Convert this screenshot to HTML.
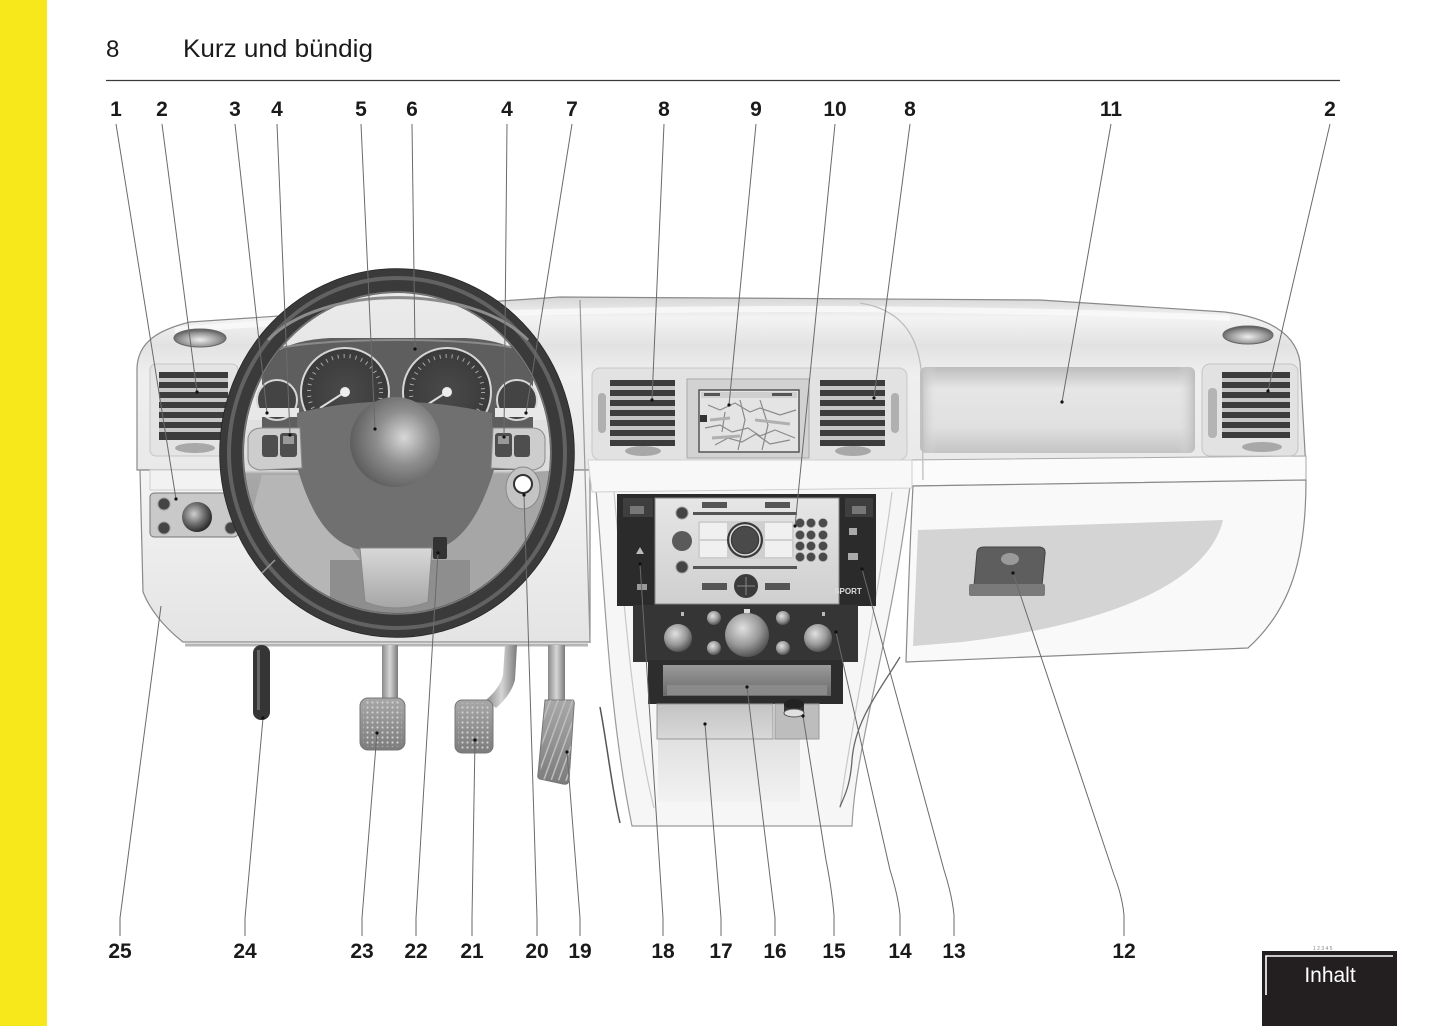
<!DOCTYPE html>
<html><head><meta charset="utf-8">
<style>
html,body{margin:0;padding:0;background:#fff;}
body{width:1445px;height:1026px;position:relative;overflow:hidden;font-family:"Liberation Sans",sans-serif;}
.yb{position:absolute;left:0;top:0;width:47px;height:1026px;background:#f6e81a;}
svg{position:absolute;left:0;top:0;}
</style></head><body>
<div class="yb"></div>
<svg width="1445" height="1026" viewBox="0 0 1445 1026" xmlns="http://www.w3.org/2000/svg">
<defs>
  <linearGradient id="gTop" x1="0" y1="0" x2="0" y2="1">
    <stop offset="0" stop-color="#d6d6d6"/>
    <stop offset="0.12" stop-color="#f3f3f3"/>
    <stop offset="0.28" stop-color="#e2e2e2"/>
    <stop offset="0.45" stop-color="#efefef"/>
    <stop offset="1" stop-color="#e9e9e9"/>
  </linearGradient>
  <linearGradient id="gLow" x1="0" y1="0" x2="0" y2="1">
    <stop offset="0" stop-color="#f4f4f4"/>
    <stop offset="1" stop-color="#e4e4e4"/>
  </linearGradient>
  <linearGradient id="gBag" x1="0" y1="0" x2="0" y2="1">
    <stop offset="0" stop-color="#bdbdbd"/>
    <stop offset="0.25" stop-color="#e6e6e6"/>
    <stop offset="0.7" stop-color="#e0e0e0"/>
    <stop offset="1" stop-color="#c4c4c4"/>
  </linearGradient>
  <linearGradient id="gBagH" x1="0" y1="0" x2="1" y2="0">
    <stop offset="0" stop-color="#bbb" stop-opacity="0.9"/>
    <stop offset="0.06" stop-color="#ddd" stop-opacity="0"/>
    <stop offset="0.94" stop-color="#ddd" stop-opacity="0"/>
    <stop offset="1" stop-color="#bbb" stop-opacity="0.9"/>
  </linearGradient>
  <radialGradient id="gAir" cx="0.6" cy="0.45" r="0.6">
    <stop offset="0" stop-color="#d8d8d8"/>
    <stop offset="0.5" stop-color="#8e8e8e"/>
    <stop offset="1" stop-color="#5e5e5e"/>
  </radialGradient>
  <radialGradient id="gKnob" cx="0.4" cy="0.4" r="0.6">
    <stop offset="0" stop-color="#cfcfcf"/>
    <stop offset="0.6" stop-color="#6a6a6a"/>
    <stop offset="1" stop-color="#2e2e2e"/>
  </radialGradient>
  <radialGradient id="gKnobL" cx="0.4" cy="0.35" r="0.65">
    <stop offset="0" stop-color="#e0e0e0"/>
    <stop offset="0.6" stop-color="#9a9a9a"/>
    <stop offset="1" stop-color="#555"/>
  </radialGradient>
  <radialGradient id="gCup" cx="0.5" cy="0.6" r="0.6">
    <stop offset="0" stop-color="#eee"/>
    <stop offset="0.6" stop-color="#999"/>
    <stop offset="1" stop-color="#555"/>
  </radialGradient>
  <radialGradient id="gGauge" cx="0.5" cy="0.5" r="0.5">
    <stop offset="0" stop-color="#4a4a4a"/>
    <stop offset="1" stop-color="#3a3a3a"/>
  </radialGradient>
  <linearGradient id="gInner" x1="0" y1="0" x2="0" y2="1">
    <stop offset="0" stop-color="#ececec"/>
    <stop offset="0.55" stop-color="#dcdcdc"/>
    <stop offset="0.56" stop-color="#a8a8a8"/>
    <stop offset="1" stop-color="#8e8e8e"/>
  </linearGradient>
  <linearGradient id="gRadio" x1="0" y1="0" x2="0" y2="1">
    <stop offset="0" stop-color="#e6e6e6"/>
    <stop offset="1" stop-color="#cfcfcf"/>
  </linearGradient>
  <linearGradient id="gStem" x1="0" y1="0" x2="1" y2="0">
    <stop offset="0" stop-color="#8a8a8a"/>
    <stop offset="0.5" stop-color="#d6d6d6"/>
    <stop offset="1" stop-color="#7a7a7a"/>
  </linearGradient>
  <linearGradient id="gPad" x1="0" y1="0" x2="0" y2="1">
    <stop offset="0" stop-color="#a8a8a8"/>
    <stop offset="1" stop-color="#7c7c7c"/>
  </linearGradient>
  <linearGradient id="gSpoke" x1="0" y1="0" x2="0" y2="1">
    <stop offset="0" stop-color="#d8d8d8"/>
    <stop offset="1" stop-color="#a6a6a6"/>
  </linearGradient>
  <linearGradient id="gTray" x1="0" y1="0" x2="0" y2="1">
    <stop offset="0" stop-color="#9a9a9a"/>
    <stop offset="1" stop-color="#6a6a6a"/>
  </linearGradient>
  <linearGradient id="gBox" x1="0" y1="0" x2="0" y2="1">
    <stop offset="0" stop-color="#c4c4c4"/>
    <stop offset="1" stop-color="#d8d8d8"/>
  </linearGradient>
  <linearGradient id="gCons" x1="0" y1="0" x2="0" y2="1">
    <stop offset="0" stop-color="#e0e0e0"/>
    <stop offset="1" stop-color="#f2f2f2"/>
  </linearGradient>
  <pattern id="dots" width="5" height="5" patternUnits="userSpaceOnUse">
    <circle cx="2.5" cy="2.5" r="1.1" fill="#cfcfcf"/>
  </pattern>
  <pattern id="stripes" width="7" height="7" patternUnits="userSpaceOnUse" patternTransform="rotate(20)">
    <rect x="0" y="0" width="1.5" height="7" fill="#bdbdbd"/>
  </pattern>
  <clipPath id="wheelIn"><ellipse cx="397" cy="453" rx="166" ry="173"/></clipPath>
</defs>

<!-- header -->
<text x="106" y="57" font-family="Liberation Sans, sans-serif" font-size="24" fill="#1a1a1a">8</text>
<text x="183" y="57" font-family="Liberation Sans, sans-serif" font-size="25" fill="#1a1a1a" textLength="190" lengthAdjust="spacingAndGlyphs">Kurz und bündig</text>
<line x1="106" y1="80.5" x2="1340" y2="80.5" stroke="#3a3a3a" stroke-width="1.3"/>

<!-- center console body -->
<path d="M594,470 C604,560 606,700 632,826 L852,826 C856,740 892,640 912,470 Z" fill="#f6f6f6" stroke="#9a9a9a" stroke-width="1.2"/>
<path d="M614,492 C624,600 632,720 654,808" fill="none" stroke="#c8c8c8" stroke-width="1.2"/>
<path d="M892,492 C878,600 852,720 840,808" fill="none" stroke="#c8c8c8" stroke-width="1.2"/>
<path d="M600,707 C608,750 612,790 620,823" fill="none" stroke="#555" stroke-width="1.5"/>
<path d="M900,657 C880,690 855,720 852,760 C850,790 842,800 840,807" fill="none" stroke="#666" stroke-width="1.3"/>
<rect x="658" y="738" width="142" height="64" fill="url(#gCons)"/>

<!-- upper dash body -->
<path d="M137,368 C138,342 158,330 190,322 L560,297 L1040,300 L1225,312 C1270,318 1296,334 1300,362 L1306,470 L137,470 Z" fill="url(#gTop)" stroke="#8a8a8a" stroke-width="1.2"/>
<path d="M175,330 C400,312 800,300 1230,318" fill="none" stroke="#fafafa" stroke-width="6" opacity="0.8"/>

<!-- lower left panel -->
<path d="M140,470 L590,470 L590,642 L183,642 C165,628 150,610 143,592 Z" fill="url(#gLow)" stroke="#8a8a8a" stroke-width="1.2"/>
<line x1="185" y1="645" x2="588" y2="645" stroke="#b5b5b5" stroke-width="3"/>
<line x1="580" y1="300" x2="590" y2="643" stroke="#9a9a9a" stroke-width="1.2"/>

<!-- glovebox -->
<path d="M905,460 L1306,456 L1306,480 L905,486 Z" fill="#fbfbfb" stroke="#aaa"/>
<path d="M913,486 L1306,480 C1306,560 1290,610 1248,648 L906,662 C908,600 910,540 913,486 Z" fill="#f9f9f9" stroke="#8a8a8a" stroke-width="1.2"/>
<path d="M918,530 L1223,520 C1210,575 1130,622 962,642 L913,646 Z" fill="#d4d4d4"/>
<path d="M977,552 Q978,547 984,547 L1040,547 Q1046,548 1045,554 L1042,586 L974,586 Z" fill="#5e5e5e" stroke="#444"/>
<rect x="969" y="584" width="76" height="12" rx="2" fill="#7a7a7a"/>
<ellipse cx="1010" cy="559" rx="9" ry="6" fill="#9a9a9a"/>

<!-- right side: airbag panel, vent, cupholder -->
<rect x="920" y="367" width="275" height="86" rx="6" fill="url(#gBag)"/>
<rect x="920" y="367" width="275" height="86" rx="6" fill="url(#gBagH)"/>
<rect x="1202" y="364" width="96" height="92" rx="8" fill="#e2e2e2" stroke="#c4c4c4"/>
<rect x="1208" y="388" width="9" height="50" rx="4" fill="#b4b4b4"/>
<g>
  <rect x="1222" y="372" width="68" height="66" fill="#3c3c3c"/>
  <rect x="1222" y="378" width="68" height="4" fill="#c6c6c6"/>
  <rect x="1222" y="388" width="68" height="4" fill="#c6c6c6"/>
  <rect x="1222" y="398" width="68" height="4" fill="#c6c6c6"/>
  <rect x="1222" y="408" width="68" height="4" fill="#c6c6c6"/>
  <rect x="1222" y="418" width="68" height="4" fill="#c6c6c6"/>
  <rect x="1222" y="428" width="68" height="4" fill="#c6c6c6"/>
</g>
<ellipse cx="1262" cy="447" rx="20" ry="5" fill="#a8a8a8"/>
<ellipse cx="1248" cy="335" rx="25" ry="9" fill="url(#gCup)" stroke="#666"/>

<!-- center pod -->
<path d="M860,303 C905,310 920,340 922,380 L923,480" fill="none" stroke="#bdbdbd" stroke-width="1.3"/>
<rect x="592" y="368" width="315" height="92" rx="8" fill="#e2e2e2" stroke="#c8c8c8"/>
<rect x="598" y="393" width="8" height="40" rx="4" fill="#b0b0b0"/>
<rect x="891" y="393" width="8" height="40" rx="4" fill="#b0b0b0"/>
<g>
  <rect x="610" y="380" width="65" height="66" fill="#3c3c3c"/>
  <rect x="610" y="386" width="65" height="4" fill="#c6c6c6"/>
  <rect x="610" y="396" width="65" height="4" fill="#c6c6c6"/>
  <rect x="610" y="406" width="65" height="4" fill="#c6c6c6"/>
  <rect x="610" y="416" width="65" height="4" fill="#c6c6c6"/>
  <rect x="610" y="426" width="65" height="4" fill="#c6c6c6"/>
  <rect x="610" y="436" width="65" height="4" fill="#c6c6c6"/>
</g>
<g>
  <rect x="820" y="380" width="65" height="66" fill="#3c3c3c"/>
  <rect x="820" y="386" width="65" height="4" fill="#c6c6c6"/>
  <rect x="820" y="396" width="65" height="4" fill="#c6c6c6"/>
  <rect x="820" y="406" width="65" height="4" fill="#c6c6c6"/>
  <rect x="820" y="416" width="65" height="4" fill="#c6c6c6"/>
  <rect x="820" y="426" width="65" height="4" fill="#c6c6c6"/>
  <rect x="820" y="436" width="65" height="4" fill="#c6c6c6"/>
</g>
<ellipse cx="643" cy="451" rx="18" ry="5" fill="#a8a8a8"/>
<ellipse cx="853" cy="451" rx="18" ry="5" fill="#a8a8a8"/>
<rect x="687" y="379" width="122" height="79" fill="#d2d2d2" stroke="#aaa"/>
<rect x="699" y="390" width="100" height="62" fill="#e4e4e4" stroke="#555" stroke-width="1.5"/>
<rect x="701" y="392" width="96" height="6" fill="#cfcfcf"/>
<rect x="704" y="393" width="16" height="3" fill="#555"/>
<rect x="772" y="393" width="20" height="3" fill="#555"/>
<rect x="700" y="415" width="7" height="7" fill="#333"/>
<path d="M708,405 L720,410 L735,403 L750,412 L760,408 L780,415 L796,410 M705,428 L720,425 L732,432 L748,428 L760,436 L775,430 L795,438 M715,445 L728,438 L742,442 L756,434 L770,444 L790,440 M740,400 L745,420 L738,450 M760,400 L768,425 L762,450 M725,412 L722,432" fill="none" stroke="#8a8a8a" stroke-width="1.2"/>
<path d="M710,420 L730,418 M755,420 L790,424 M712,438 L740,436" fill="none" stroke="#b0b0b0" stroke-width="3"/>

<!-- ridge -->
<path d="M588,460 L912,460 L912,488 L592,492 Z" fill="#f8f8f8" stroke="#cfcfcf"/>

<!-- center stack -->
<rect x="617" y="494" width="259" height="112" fill="#2b2b2b"/>
<rect x="655" y="498" width="184" height="106" fill="url(#gRadio)" stroke="#888"/>
<rect x="702" y="502" width="25" height="6" fill="#555"/>
<rect x="765" y="502" width="25" height="6" fill="#555"/>
<rect x="693" y="512" width="104" height="3" fill="#555"/>
<rect x="693" y="566" width="104" height="3" fill="#555"/>
<circle cx="682" cy="513" r="6" fill="#444" stroke="#999"/>
<circle cx="682" cy="567" r="6" fill="#444" stroke="#999"/>
<circle cx="682" cy="541" r="10" fill="#5a5a5a"/>
<rect x="698" y="521" width="96" height="38" rx="2" fill="#cfcfcf"/>
<rect x="700" y="523" width="27" height="16" fill="#f0f0f0"/>
<rect x="700" y="541" width="27" height="16" fill="#f0f0f0"/>
<rect x="765" y="523" width="27" height="16" fill="#f0f0f0"/>
<rect x="765" y="541" width="27" height="16" fill="#f0f0f0"/>
<circle cx="745" cy="540" r="18" fill="#3a3a3a"/>
<circle cx="745" cy="540" r="15" fill="none" stroke="#ddd" stroke-width="1.5"/>
<circle cx="745" cy="540" r="13" fill="#4a4a4a"/>
<g fill="#4a4a4a" stroke="#999" stroke-width="0.6">
  <circle cx="800" cy="523" r="4.5"/><circle cx="811" cy="523" r="4.5"/><circle cx="823" cy="523" r="4.5"/>
  <circle cx="800" cy="535" r="4.5"/><circle cx="811" cy="535" r="4.5"/><circle cx="823" cy="535" r="4.5"/>
  <circle cx="800" cy="546" r="4.5"/><circle cx="811" cy="546" r="4.5"/><circle cx="823" cy="546" r="4.5"/>
  <circle cx="800" cy="557" r="4.5"/><circle cx="811" cy="557" r="4.5"/><circle cx="823" cy="557" r="4.5"/>
</g>
<rect x="702" y="583" width="25" height="7" fill="#555"/>
<rect x="765" y="583" width="25" height="7" fill="#555"/>
<circle cx="746" cy="586" r="12" fill="#3a3a3a"/>
<path d="M746,577 L746,595 M737,586 L755,586" stroke="#888" stroke-width="1"/>
<rect x="623" y="498" width="30" height="19" fill="#3e3e3e"/>
<rect x="630" y="506" width="14" height="8" fill="#777"/>
<rect x="845" y="498" width="28" height="19" fill="#3e3e3e"/>
<rect x="852" y="506" width="14" height="8" fill="#777"/>
<path d="M636,554 L640,547 L644,554 Z" fill="#bbb"/>
<rect x="637" y="584" width="10" height="6" fill="#999"/>
<rect x="849" y="528" width="8" height="7" fill="#aaa"/>
<rect x="848" y="553" width="10" height="7" fill="#aaa"/>
<text x="848" y="594" font-family="Liberation Sans, sans-serif" font-size="8" font-weight="bold" fill="#ddd" text-anchor="middle">SPORT</text>

<rect x="633" y="605" width="225" height="57" fill="#353535"/>
<circle cx="678" cy="638" r="14" fill="url(#gKnobL)"/>
<circle cx="747" cy="635" r="22" fill="url(#gKnobL)"/>
<circle cx="818" cy="638" r="14" fill="url(#gKnobL)"/>
<circle cx="714" cy="618" r="7" fill="url(#gKnobL)"/>
<circle cx="714" cy="648" r="7" fill="url(#gKnobL)"/>
<circle cx="783" cy="618" r="7" fill="url(#gKnobL)"/>
<circle cx="783" cy="648" r="7" fill="url(#gKnobL)"/>
<rect x="744" y="609" width="6" height="4" fill="#ddd"/>
<rect x="681" y="612" width="3" height="4" fill="#bbb"/>
<rect x="822" y="612" width="3" height="4" fill="#bbb"/>

<rect x="648" y="660" width="195" height="44" fill="#2d2d2d"/>
<rect x="663" y="665" width="168" height="31" fill="url(#gTray)"/>
<rect x="667" y="685" width="160" height="10" fill="#8a8a8a"/>
<rect x="657" y="704" width="116" height="35" fill="url(#gBox)" stroke="#999"/>
<rect x="775" y="704" width="44" height="35" fill="#bdbdbd" stroke="#999"/>
<rect x="784" y="704" width="20" height="9" fill="#333"/>
<ellipse cx="794" cy="704" rx="10" ry="5" fill="#222"/>
<ellipse cx="794" cy="713" rx="10" ry="4" fill="#e0e0e0" stroke="#555"/>

<!-- left vent, cupholder, light switch -->
<rect x="150" y="364" width="88" height="92" rx="6" fill="#e4e4e4" stroke="#c6c6c6"/>
<g>
  <rect x="159" y="372" width="69" height="68" fill="#3c3c3c"/>
  <rect x="159" y="378" width="69" height="4" fill="#c6c6c6"/>
  <rect x="159" y="388" width="69" height="4" fill="#c6c6c6"/>
  <rect x="159" y="398" width="69" height="4" fill="#c6c6c6"/>
  <rect x="159" y="408" width="69" height="4" fill="#c6c6c6"/>
  <rect x="159" y="418" width="69" height="4" fill="#c6c6c6"/>
  <rect x="159" y="428" width="69" height="4" fill="#c6c6c6"/>
</g>
<ellipse cx="195" cy="448" rx="20" ry="5" fill="#a8a8a8"/>
<ellipse cx="200" cy="338" rx="26" ry="9" fill="url(#gCup)" stroke="#666"/>
<rect x="150" y="470" width="92" height="20" fill="#f2f2f2" stroke="#cfcfcf"/>
<rect x="150" y="493" width="88" height="44" rx="4" fill="#c9c9c9" stroke="#777"/>
<circle cx="197" cy="517" r="15" fill="url(#gKnob)"/>
<circle cx="164" cy="504" r="6" fill="#444" stroke="#999"/>
<circle cx="164" cy="528" r="6" fill="#444" stroke="#999"/>
<circle cx="231" cy="528" r="6" fill="#444" stroke="#999"/>

<!-- steering wheel interior -->
<ellipse cx="397" cy="453" rx="166" ry="173" fill="url(#gInner)"/>
<g clip-path="url(#wheelIn)">
  <path d="M238,380 C300,336 495,336 560,380 L560,420 L238,420 Z" fill="#e8e8e8"/>
  <path d="M262,475 L300,475 L360,560 L360,600 L300,620 L240,560 Z" fill="#b6b6b6"/>
  <path d="M495,475 L560,470 L565,560 L520,600 L430,600 L430,560 Z" fill="#a6a6a6"/>
  <rect x="330" y="560" width="140" height="80" fill="#8e8e8e"/>
</g>
<!-- cluster hood -->
<path d="M262,470 L262,378 C262,352 292,340 330,338 L465,338 C505,340 533,352 533,378 L533,470 Z" fill="#5e5e5e"/>
<path d="M268,352 C300,336 495,336 528,352" fill="none" stroke="#8a8a8a" stroke-width="2"/>
<circle cx="345" cy="392" r="44" fill="url(#gGauge)" stroke="#d6d6d6" stroke-width="2"/>
<circle cx="345" cy="392" r="36" fill="none" stroke="#a8a8a8" stroke-width="4" stroke-dasharray="1 5"/>
<circle cx="447" cy="392" r="44" fill="url(#gGauge)" stroke="#d6d6d6" stroke-width="2"/>
<circle cx="447" cy="392" r="36" fill="none" stroke="#a8a8a8" stroke-width="4" stroke-dasharray="1 5"/>
<line x1="345" y1="392" x2="320" y2="408" stroke="#ddd" stroke-width="2"/>
<line x1="447" y1="392" x2="422" y2="408" stroke="#ddd" stroke-width="2"/>
<circle cx="345" cy="392" r="5" fill="#eee"/>
<circle cx="447" cy="392" r="5" fill="#eee"/>
<circle cx="277" cy="400" r="20" fill="#444" stroke="#d6d6d6" stroke-width="2"/>
<circle cx="517" cy="400" r="20" fill="#444" stroke="#d6d6d6" stroke-width="2"/>
<rect x="257" y="408" width="42" height="9" fill="#e8e8e8"/>
<rect x="495" y="408" width="42" height="9" fill="#e8e8e8"/>

<!-- hub -->
<path d="M297,413 Q390,390 492,413 L494,470 Q470,548 428,550 L364,550 Q320,546 298,470 Z" fill="#707070"/>
<circle cx="395" cy="442" r="45" fill="url(#gAir)"/>
<path d="M248,438 Q250,428 262,428 L300,428 L302,468 L260,470 Q248,468 248,458 Z" fill="#cdcdcd" stroke="#8a8a8a"/>
<rect x="262" y="435" width="16" height="22" rx="3" fill="#4e4e4e"/>
<rect x="280" y="433" width="17" height="24" rx="3" fill="#4e4e4e"/>
<rect x="283" y="436" width="11" height="8" fill="#999"/>
<path d="M545,438 Q543,428 532,428 L493,428 L491,468 L533,470 Q545,468 545,458 Z" fill="#cdcdcd" stroke="#8a8a8a"/>
<rect x="495" y="433" width="17" height="24" rx="3" fill="#4e4e4e"/>
<rect x="514" y="435" width="16" height="22" rx="3" fill="#4e4e4e"/>
<rect x="498" y="436" width="11" height="8" fill="#999"/>
<path d="M360,548 L432,548 L428,602 Q396,614 365,602 Z" fill="url(#gSpoke)" stroke="#888"/>
<ellipse cx="523" cy="488" rx="17" ry="21" fill="#c4c4c4" stroke="#888"/>
<circle cx="523" cy="484" r="9" fill="#fff" stroke="#333" stroke-width="2"/>
<rect x="433" y="537" width="14" height="22" rx="2" fill="#333"/>

<!-- steering ring -->
<ellipse cx="397" cy="453" rx="177" ry="184" fill="none" stroke="#222" stroke-width="1.5"/>
<ellipse cx="397" cy="453" rx="165" ry="172" fill="none" stroke="#3a3a3a" stroke-width="24"/>
<ellipse cx="397" cy="453" rx="168" ry="175" fill="none" stroke="#626262" stroke-width="4"/>
<ellipse cx="397" cy="453" rx="154" ry="161" fill="none" stroke="#777" stroke-width="1.5"/>
<path d="M268,340 C320,285 470,282 528,340" fill="none" stroke="#8c8c8c" stroke-width="3"/>
<line x1="262" y1="573" x2="275" y2="560" stroke="#999" stroke-width="1.5"/>

<!-- pedals -->
<rect x="253" y="645" width="17" height="75" rx="8" fill="#353535"/>
<rect x="257" y="650" width="3" height="60" fill="#666"/>
<rect x="382" y="645" width="16" height="56" fill="url(#gStem)"/>
<rect x="360" y="698" width="45" height="52" rx="8" fill="url(#gPad)" stroke="#777"/>
<rect x="363" y="701" width="39" height="46" rx="6" fill="url(#dots)"/>
<path d="M505,645 L517,645 L515,680 Q511,695 496,708 L486,700 Q500,688 503,675 Z" fill="url(#gStem)"/>
<rect x="455" y="700" width="38" height="53" rx="7" fill="url(#gPad)" stroke="#777"/>
<rect x="458" y="703" width="32" height="47" rx="5" fill="url(#dots)"/>
<rect x="548" y="645" width="17" height="58" fill="url(#gStem)"/>
<path d="M545,700 L573,700 Q575,702 574,706 L569,781 Q568,785 563,784 L540,779 Q537,778 538,774 Z" fill="url(#gPad)" stroke="#777"/>
<path d="M545,700 L573,700 L569,781 L540,779 Z" fill="url(#stripes)"/>

<!-- leader lines -->
<g fill="none" stroke="#6a6a6a" stroke-width="1">
  <path d="M116,124 L176,499"/>
  <path d="M162,124 L197,392"/>
  <path d="M235,124 L267,413"/>
  <path d="M277,124 L290,435"/>
  <path d="M361,124 L375,429"/>
  <path d="M412,124 L415,349"/>
  <path d="M507,124 L504,437"/>
  <path d="M572,124 L526,413"/>
  <path d="M664,124 L652,400"/>
  <path d="M756,124 L729,405"/>
  <path d="M835,124 L795,526"/>
  <path d="M910,124 L874,398"/>
  <path d="M1111,124 L1062,402"/>
  <path d="M1330,124 L1268,391"/>

  <path d="M120,936 L120,918 L161,606"/>
  <path d="M245,936 L245,918 L263,718"/>
  <path d="M362,936 L362,918 L377,733"/>
  <path d="M416,936 L416,918 L438,553"/>
  <path d="M472,936 L472,918 L475,740"/>
  <path d="M537,936 L537,918 L524,495"/>
  <path d="M580,936 L580,918 L567,752"/>
  <path d="M663,936 L663,918 L640,564"/>
  <path d="M721,936 L721,918 L705,724"/>
  <path d="M775,936 L775,918 L747,687"/>
  <path d="M834,936 L834,915 Q832,890 826,860 L803,716"/>
  <path d="M900,936 L900,915 Q898,895 890,870 L836,632"/>
  <path d="M954,936 L954,915 Q952,895 944,870 L862,569"/>
  <path d="M1124,936 L1124,915 Q1122,895 1114,875 L1013,573"/>
</g>
<g fill="#111">
  <circle cx="176" cy="499" r="1.6"/><circle cx="197" cy="392" r="1.6"/><circle cx="267" cy="413" r="1.6"/>
  <circle cx="290" cy="435" r="1.6"/><circle cx="375" cy="429" r="1.6"/><circle cx="415" cy="349" r="1.6"/>
  <circle cx="504" cy="437" r="1.6"/><circle cx="526" cy="413" r="1.6"/><circle cx="652" cy="400" r="1.6"/>
  <circle cx="729" cy="405" r="1.6"/><circle cx="795" cy="526" r="1.6"/><circle cx="874" cy="398" r="1.6"/>
  <circle cx="1062" cy="402" r="1.6"/><circle cx="1268" cy="391" r="1.6"/>
  <circle cx="263" cy="718" r="1.6"/><circle cx="377" cy="733" r="1.6"/><circle cx="438" cy="553" r="1.6"/>
  <circle cx="475" cy="740" r="1.6"/><circle cx="524" cy="495" r="1.6"/><circle cx="567" cy="752" r="1.6"/>
  <circle cx="640" cy="564" r="1.6"/><circle cx="705" cy="724" r="1.6"/><circle cx="747" cy="687" r="1.6"/>
  <circle cx="803" cy="716" r="1.6"/><circle cx="836" cy="632" r="1.6"/><circle cx="862" cy="569" r="1.6"/>
  <circle cx="1013" cy="573" r="1.6"/>
</g>

<!-- labels -->
<g font-family="Liberation Sans, Arial, sans-serif" font-size="21" font-weight="bold" fill="#1a1a1a" text-anchor="middle">
  <text x="116" y="116">1</text>
  <text x="162" y="116">2</text>
  <text x="235" y="116">3</text>
  <text x="277" y="116">4</text>
  <text x="361" y="116">5</text>
  <text x="412" y="116">6</text>
  <text x="507" y="116">4</text>
  <text x="572" y="116">7</text>
  <text x="664" y="116">8</text>
  <text x="756" y="116">9</text>
  <text x="835" y="116">10</text>
  <text x="910" y="116">8</text>
  <text x="1111" y="116">11</text>
  <text x="1330" y="116">2</text>

  <text x="120" y="958">25</text>
  <text x="245" y="958">24</text>
  <text x="362" y="958">23</text>
  <text x="416" y="958">22</text>
  <text x="472" y="958">21</text>
  <text x="537" y="958">20</text>
  <text x="580" y="958">19</text>
  <text x="663" y="958">18</text>
  <text x="721" y="958">17</text>
  <text x="775" y="958">16</text>
  <text x="834" y="958">15</text>
  <text x="900" y="958">14</text>
  <text x="954" y="958">13</text>
  <text x="1124" y="958">12</text>
</g>

<!-- Inhalt -->
<text x="1313" y="950" font-family="Liberation Sans, sans-serif" font-size="5" fill="#888">1 2 3 4 5</text>
<rect x="1262" y="951" width="135" height="75" fill="#231f20"/>
<polyline points="1266,995 1266,956 1393,956" fill="none" stroke="#fff" stroke-width="1.6"/>
<text x="1330" y="982" font-family="Liberation Sans, sans-serif" font-size="21" fill="#fff" text-anchor="middle">Inhalt</text>
</svg>
</body></html>
